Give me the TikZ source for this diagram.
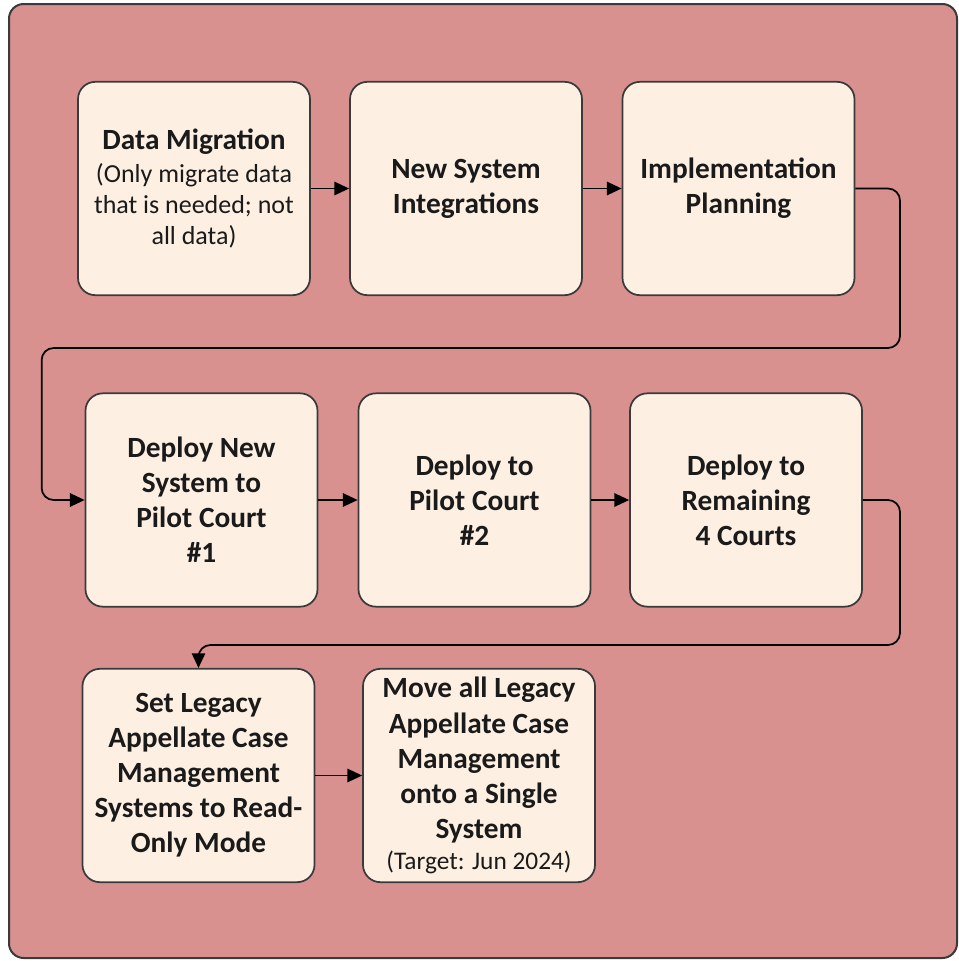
\documentclass[tikz,border=0pt]{standalone}
\usepackage{fontspec}
\setmainfont{Carlito}
\usetikzlibrary{arrows.meta}
\definecolor{bgrose}{HTML}{D8918F}
\definecolor{cream}{HTML}{FDF0E3}
\definecolor{edge}{HTML}{3A3A3A}
\definecolor{ink}{HTML}{1A1A1A}
\tikzset{
  stepbox/.style={draw=edge, line width=1.3pt, fill=cream, rounded corners=13pt,
    minimum width=174pt, minimum height=160pt, align=center, text=ink,
    font=\bfseries\fontsize{22}{26.3}\selectfont, inner sep=2pt},
  conn/.style={draw=black, line width=1.3pt, rounded corners=9pt,
    -{Triangle[length=11pt,width=10pt]}}
}
\newcommand{\smalltxt}[1]{{\mdseries\fontsize{19.5}{23}\selectfont #1}}
\begin{document}
\begin{tikzpicture}[x=0.75pt,y=-0.75pt]
\useasboundingbox (0,0) rectangle (959,961);
\node[draw=edge, line width=1.5pt, fill=bgrose, rounded corners=11pt,
  minimum width=711pt, minimum height=715.5pt, inner sep=0pt] (frame) at (483,481) {};
\node[stepbox] (A) at (194,188.5) {Data Migration\\[-2pt]
  \smalltxt{(Only migrate data}\\[-3pt]\smalltxt{that is needed; not}\\[-3pt]\smalltxt{all data)}};
\node[stepbox] (B) at (466,188.5) {New System\\Integrations};
\node[stepbox] (C) at (738.5,188.5) {Implementation\\Planning};
\node[stepbox] (D) at (201.5,500) {Deploy New\\System to\\Pilot Court\\\#1};
\node[stepbox] (E) at (474.5,500) {Deploy to\\Pilot Court\\\#2};
\node[stepbox] (F) at (746,500) {Deploy to\\Remaining\\4 Courts};
\node[stepbox] (G) at (198.5,775.5) {Set Legacy\\Appellate Case\\Management\\Systems to Read-\\Only Mode};
\node[stepbox] (H) at (479,775.5) {Move all Legacy\\Appellate Case\\Management\\onto a Single\\System\\[-3pt]
  {\mdseries\fontsize{19}{22}\selectfont (Target: Jun 2024)}};
\coordinate (r1) at (900,348);
\coordinate (r2) at (900,645);
\draw[conn] (A.east) -- (B.west);
\draw[conn] (B.east) -- (C.west);
\draw[conn] (C.east) -| (r1) -| ([xshift=-32.25pt]D.west) -- (D.west);
\draw[conn] (D.east) -- (E.west);
\draw[conn] (E.east) -- (F.west);
\draw[conn] (F.east) -| (r2) -| (G.north);
\draw[conn] (G.east) -- (H.west);
\end{tikzpicture}
\end{document}
